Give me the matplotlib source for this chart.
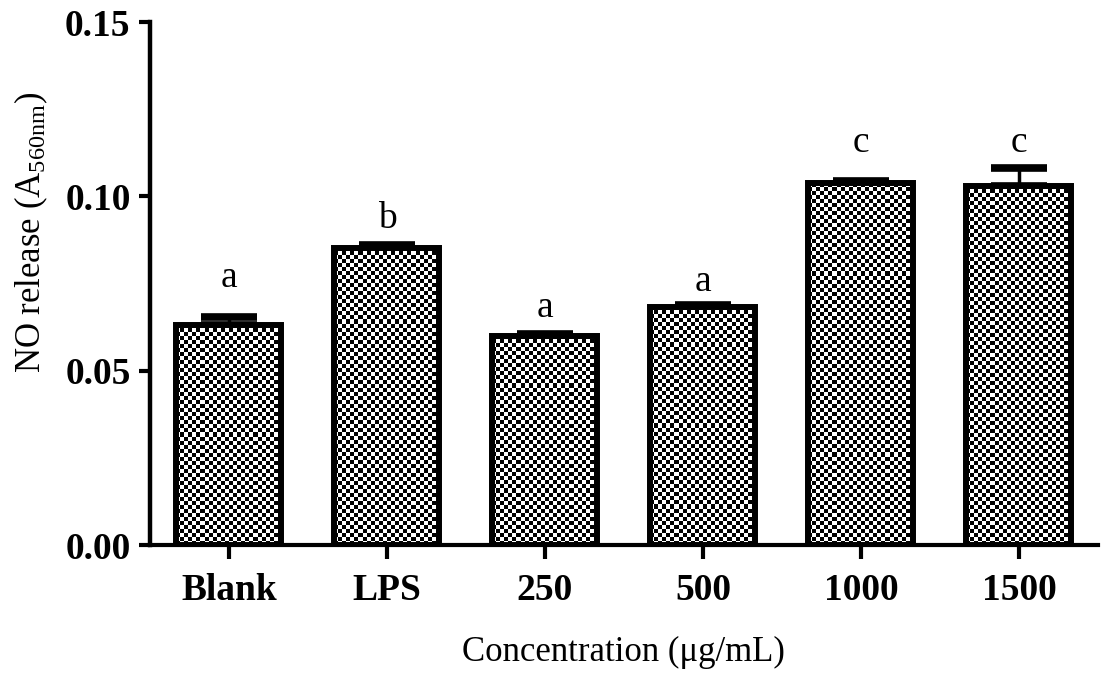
import numpy as np
import matplotlib
matplotlib.use("Agg")
import matplotlib.pyplot as plt

plt.rcParams['font.family'] = ['Liberation Serif', 'DejaVu Serif']
plt.rcParams['mathtext.fontset'] = 'custom'
plt.rcParams['mathtext.rm'] = 'Liberation Serif'
plt.rcParams['mathtext.it'] = 'Liberation Serif:italic'

groups = ['Blank', 'LPS', '250', '500', '1000', '1500']
means = [0.0631, 0.0853, 0.0600, 0.0683, 0.1037, 0.1031]
errors = [0.0023, 0.0008, 0.0006, 0.0006, 0.0008, 0.0051]
letters = ['a', 'b', 'a', 'a', 'c', 'c']
letter_y = [0.0741, 0.0910, 0.0655, 0.0729, 0.1126, 0.1126]

fig = plt.figure(figsize=(11.01, 6.78), dpi=100)
ax = fig.add_axes([0.1362, 0.196, 0.861, 0.7715])

x = np.arange(len(groups))
width = 0.665

# error bars (upper only), drawn under the bars
ax.errorbar(x, means, yerr=[np.zeros(len(means)), errors], fmt='none',
            ecolor='black', elinewidth=2.5, capsize=20, capthick=5.5, zorder=1)

bars = ax.bar(x, means, width, facecolor='none', edgecolor='black',
              linewidth=4.3, zorder=3)

# checkerboard fill, clipped to each bar
cell_x = 4 / 158
cell_y = 4 / 3482
for b in bars:
    x0, y0 = b.get_x(), b.get_y()
    w, h = b.get_width(), b.get_height()
    nc = max(1, int(round(w / cell_x)))
    nr = max(1, int(round(h / cell_y)))
    ii, jj = np.indices((nr, nc))
    board = (ii + jj) % 2
    im = ax.imshow(board, cmap='gray', vmin=0, vmax=1, interpolation='nearest',
                   aspect='auto', extent=[x0, x0 + w, y0, y0 + h],
                   origin='lower', zorder=2)
    im.set_clip_path(b)

for xi, yi, t in zip(x, letter_y, letters):
    ax.text(xi, yi, t, ha='center', va='baseline', fontsize=27)

ax.set_xlim(-0.5, 5.5)
ax.set_ylim(0, 0.15)
ax.set_yticks([0.00, 0.05, 0.10, 0.15])
ax.set_yticklabels(['0.00', '0.05', '0.10', '0.15'])
ax.set_xticks(x)
ax.set_xticklabels(groups)

for lab in ax.get_xticklabels() + ax.get_yticklabels():
    lab.set_fontweight('bold')
    lab.set_fontsize(27)

ax.tick_params(axis='y', length=8, width=3, pad=6)
ax.tick_params(axis='x', length=10, width=3, pad=10)

ax.spines['top'].set_visible(False)
ax.spines['right'].set_visible(False)
ax.spines['left'].set_linewidth(3.2)
ax.spines['bottom'].set_linewidth(3)

ax.set_xlabel('Concentration (\u03bcg/mL)', fontsize=25, labelpad=20)
ax.set_ylabel('NO release (A$_{\\mathrm{560nm}}$)', fontsize=25)
ax.yaxis.set_label_coords(-0.105, 0.598)

fig.savefig('out.png', dpi=100)
